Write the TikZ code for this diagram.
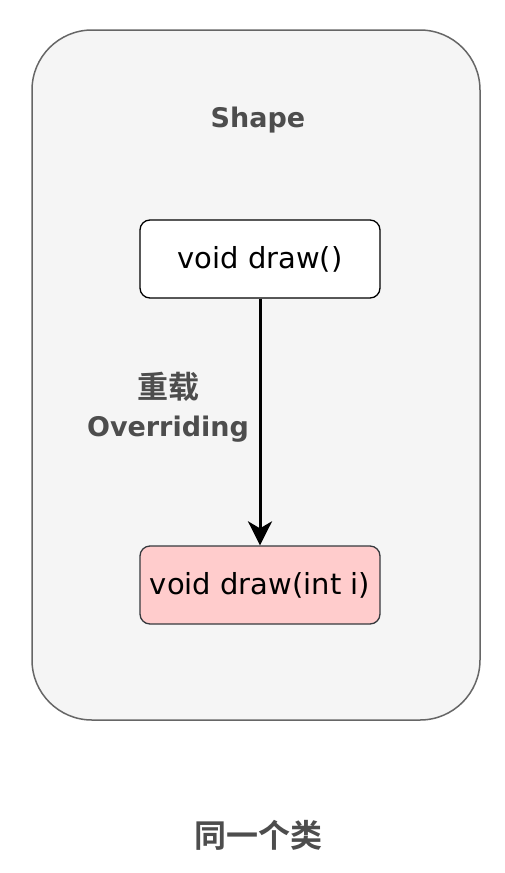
\documentclass[tikz,border=0pt]{standalone}
\usepackage{fontspec}
\setmainfont{DejaVu Sans}
\newfontfamily\cjk{Noto Sans CJK SC}[BoldFont={Noto Sans CJK SC Bold}]
\usetikzlibrary{arrows.meta}
\definecolor{outerfill}{HTML}{F5F5F5}
\definecolor{outerdraw}{HTML}{666666}
\definecolor{labelgrey}{HTML}{4D4D4D}
\definecolor{pinkfill}{HTML}{FFCCCC}
\definecolor{pinkdraw}{HTML}{36393D}
\tikzset{
  px/.style={x=1pt,y=-1pt},
  method/.style={rounded corners=10pt, line width=1.3pt, minimum width=240pt, minimum height=78pt, inner sep=0pt, font=\fontsize{29}{34}\selectfont},
  greylabel/.style={text=labelgrey, font=\bfseries\fontsize{27}{32}\selectfont, align=center},
}
\begin{document}
\begin{tikzpicture}[px]
\useasboundingbox (0,0) rectangle (505,873);
\node[draw=outerdraw, fill=outerfill, line width=1.5pt, rounded corners=60pt, minimum width=448pt, minimum height=690pt, inner sep=0pt] (outer) at (256,375) {};
\node[greylabel] (title) at (258,120) {Shape};
\node[method, draw=black, fill=white] (m1) at (260,259) {void draw()};
\node[method, draw=pinkdraw, fill=pinkfill] (m2) at (260,585) {void draw(int i)};
\draw[line width=3pt, -{Stealth[length=24pt,width=24pt,inset=7pt]}] (m1.south) -- (m2.north);
\node[greylabel, font=\bfseries\fontsize{27}{38}\selectfont] (lbl) at (168,407) {{\cjk\bfseries\fontsize{31}{34}\selectfont 重载}\\Overriding};
\node[text=labelgrey, font=\cjk\bfseries\fontsize{32}{36}\selectfont] (cls) at (258,835) {同一个类};
\end{tikzpicture}
\end{document}
